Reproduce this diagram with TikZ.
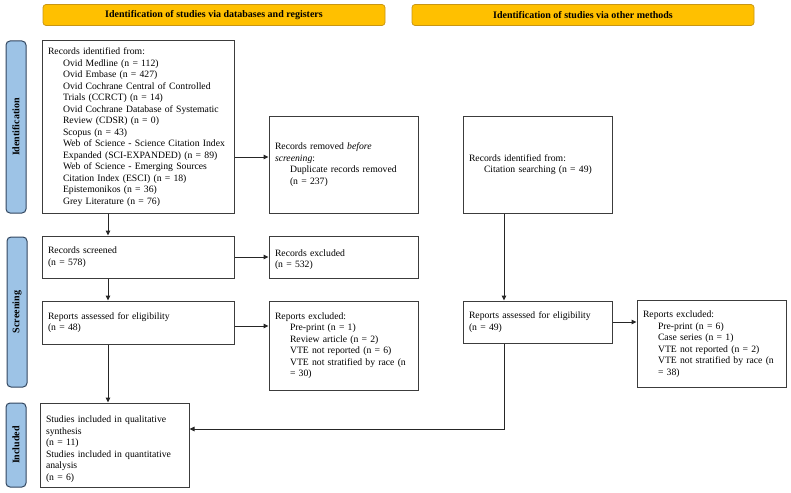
\documentclass[tikz,border=0pt]{standalone}
\usepackage{fontspec}
\setmainfont{Liberation Serif}
\usetikzlibrary{arrows.meta}

\definecolor{hdrfill}{RGB}{255,192,0}
\definecolor{hdrline}{RGB}{200,150,20}
\definecolor{barfill}{RGB}{157,195,230}
\definecolor{barline}{RGB}{50,70,95}
\definecolor{boxline}{RGB}{60,60,60}

\tikzset{every picture/.style={line width=0.75pt}}
\tikzset{
  hdr/.style={draw=hdrline, fill=hdrfill, rounded corners=3pt, minimum width=342, minimum height=21,
    font=\fontsize{10}{12}\selectfont\bfseries, inner sep=0pt},
  bar/.style={draw=barline, fill=barfill, rounded corners=4pt, minimum width=20, line width=1pt},
  barlabel/.style={rotate=90, font=\fontsize{10}{12}\selectfont\bfseries},
  flowbox/.style={draw=boxline, line width=1pt, align=left, inner xsep=6pt, inner ysep=0pt,
    font=\fontsize{9.7}{11.5}\selectfont},
  arr/.style={draw=black!85, line width=1pt, -{Triangle[length=5pt,width=4.5pt]}}
}
\newcommand{\ind}{\hspace*{15pt}}

\begin{document}
\begin{tikzpicture}[x=1pt,y=1pt,yscale=-1,xscale=1]
\useasboundingbox (0,0) rectangle (791,492);

%Shape: Headers
\node [hdr] (hdrdb) at (214,15) {Identification of studies via databases and registers};
\node [hdr] (hdrother) at (583,15) {Identification of studies via other methods};

%Shape: Side bars
\node [bar, minimum height=172] (barid) at (16,127) {};
\node [barlabel] at (barid) {Identification};
\node [bar, minimum height=150] (barscr) at (17,312) {};
\node [barlabel] at (barscr) {Screening};
\node [bar, minimum height=84] (barinc) at (16,445) {};
\node [barlabel] at (barinc) {Included};

% Text Node: databases column
\node [flowbox, minimum width=192, minimum height=172, text width=180] (ident) at (138,127)
  {Records identified from:\\
   \ind Ovid Medline (n = 112)\\
   \ind Ovid Embase (n = 427)\\
   \ind Ovid Cochrane Central of Controlled\\
   \ind Trials (CCRCT) (n = 14)\\
   \ind Ovid Cochrane Database of Systematic\\
   \ind Review (CDSR) (n = 0)\\
   \ind Scopus (n = 43)\\
   \ind Web of Science - Science Citation Index\\
   \ind Expanded (SCI-EXPANDED) (n = 89)\\
   \ind Web of Science - Emerging Sources\\
   \ind Citation Index (ESCI) (n = 18)\\
   \ind Epistemonikos (n = 36)\\
   \ind Grey Literature (n = 76)};
\node [flowbox, minimum width=149, minimum height=97, text width=137] (removed) at (343.5,164.5)
  {Records removed \textit{before}\\
   \textit{screening}:\\
   \ind Duplicate records removed\\
   \ind (n = 237)\\[12pt]};
\node [flowbox, minimum width=192, minimum height=42, text width=180] (screened) at (138,257)
  {Records screened\\(n = 578)\\[10pt]};
\node [flowbox, minimum width=149, minimum height=42, text width=137] (excluded) at (343.5,257)
  {\rule{0pt}{12pt}Records excluded\\(n = 532)};
\node [flowbox, minimum width=192, minimum height=43, text width=180] (assessed) at (138,322.5)
  {Reports assessed for eligibility\\(n = 48)};
\node [flowbox, minimum width=149, minimum height=89, text width=137] (repexcl) at (343.5,345.5)
  {Reports excluded:\\
   \ind Pre-print (n = 1)\\
   \ind Review article (n = 2)\\
   \ind VTE not reported (n = 6)\\
   \ind VTE not stratified by race (n\\
   \ind = 30)\\[18pt]};
\node [flowbox, minimum width=149, minimum height=84, text width=137] (included) at (114.5,445)
  {\rule{0pt}{15pt}Studies included in qualitative\\
   synthesis\\
   (n = 11)\\
   Studies included in quantitative\\
   analysis\\
   (n = 6)};

% Text Node: other methods column
\node [flowbox, minimum width=149, minimum height=97, text width=137] (other) at (537.5,164.5)
  {Records identified from:\\
   \ind Citation searching (n = 49)\\[14pt]};
\node [flowbox, minimum width=149, minimum height=42, text width=137] (othassess) at (537.5,322)
  {Reports assessed for eligibility\\(n = 49)};
\node [flowbox, minimum width=149, minimum height=87, text width=137] (othexcl) at (711.5,344)
  {Reports excluded:\\
   \ind Pre-print (n = 6)\\
   \ind Case series (n = 1)\\
   \ind VTE not reported (n = 2)\\
   \ind VTE not stratified by race (n\\
   \ind = 38)\\[10pt]};

%Straight Lines: connectors
\coordinate (colL) at (108,0);
\coordinate (colR) at (504,0);
\coordinate (rowA) at (0,157);
\coordinate (rowB) at (0,326);
\coordinate (rowC) at (0,429);
\draw [arr] (ident.south -| colL) -- (screened.north -| colL);
\draw [arr] (screened.south -| colL) -- (assessed.north -| colL);
\draw [arr] (assessed.south -| colL) -- (included.north -| colL);
\draw [arr] (ident.east |- rowA) -- (removed.west |- rowA);
\draw [arr] (screened) -- (excluded);
\draw [arr] (assessed.east |- rowB) -- (repexcl.west |- rowB);
\draw [arr] (other.south -| colR) -- (othassess.north -| colR);
\draw [arr] (othassess) -- (othexcl.west |- othassess);
\draw [arr] (othassess.south -| colR) |- (included.east |- rowC);

\end{tikzpicture}
\end{document}
